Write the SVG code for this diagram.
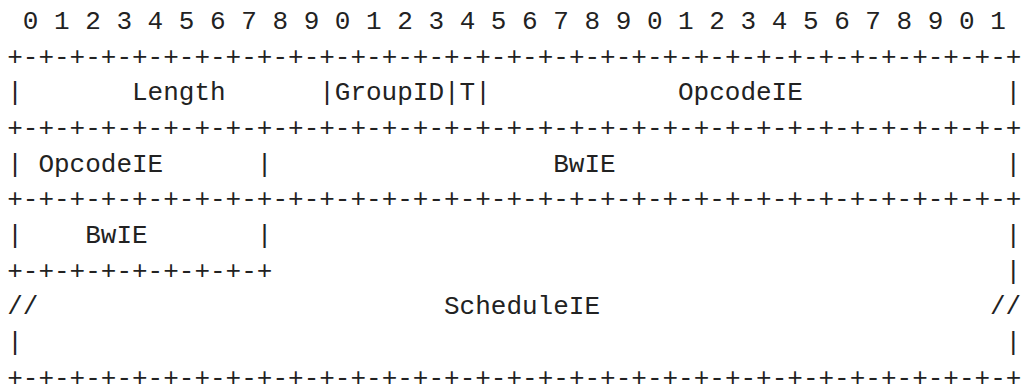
<svg xmlns="http://www.w3.org/2000/svg" width="1025" height="386" viewBox="0 0 1025 386">
  <style>
    .art { font-family: "Liberation Mono", "DejaVu Sans Mono", monospace; font-size: 26px; fill: #222; white-space: pre; }
  </style>
  <rect width="1025" height="386" fill="#ffffff"/>
  <!-- Bit diagram on a 15.6px character grid: column i sits at x = 7.2 + 15.6*i -->
  <g id="bit-ruler" class="art">
    <text x="22.8" y="29">0 1 2 3 4 5 6 7 8 9 0 1 2 3 4 5 6 7 8 9 0 1 2 3 4 5 6 7 8 9 0 1</text>
  </g>
  <g id="borders" class="art">
    <text x="7.2" y="64.65">+-+-+-+-+-+-+-+-+-+-+-+-+-+-+-+-+-+-+-+-+-+-+-+-+-+-+-+-+-+-+-+-+</text>
    <text x="7.2" y="135.95">+-+-+-+-+-+-+-+-+-+-+-+-+-+-+-+-+-+-+-+-+-+-+-+-+-+-+-+-+-+-+-+-+</text>
    <text x="7.2" y="207.25">+-+-+-+-+-+-+-+-+-+-+-+-+-+-+-+-+-+-+-+-+-+-+-+-+-+-+-+-+-+-+-+-+</text>
    <text x="7.2" y="278.55">+-+-+-+-+-+-+-+-+</text>
    <text x="7.2" y="385.5">+-+-+-+-+-+-+-+-+-+-+-+-+-+-+-+-+-+-+-+-+-+-+-+-+-+-+-+-+-+-+-+-+</text>
  </g>
  <g id="row-1" class="art">
    <text x="7.2" y="100.3">|</text>
    <text x="132" y="100.3">Length</text>
    <text x="319.2" y="100.3">|GroupID|T|</text>
    <text x="678" y="100.3">OpcodeIE</text>
  </g>
  <g id="row-2" class="art">
    <text x="7.2" y="171.6">|</text>
    <text x="38.4" y="171.6">OpcodeIE</text>
    <text x="256.8" y="171.6">|</text>
    <text x="553.2" y="171.6">BwIE</text>
  </g>
  <g id="row-3" class="art">
    <text x="7.2" y="242.9">|</text>
    <text x="85.2" y="242.9">BwIE</text>
    <text x="256.8" y="242.9">|</text>
  </g>
  <!-- right-hand frame edge, one bar per row -->
  <g id="right-edge" class="art">
    <text x="1005.6" y="100.3">|</text>
    <text x="1005.6" y="171.6">|</text>
    <text x="1005.6" y="242.9">|</text>
    <text x="1005.6" y="278.55">|</text>
    <text x="1005.6" y="349.85">|</text>
  </g>
  <g id="schedule" class="art">
    <text x="7.2" y="314.2">//</text>
    <text x="444" y="314.2">ScheduleIE</text>
    <text x="990" y="314.2">//</text>
    <text x="7.2" y="349.85">|</text>
  </g>
</svg>
